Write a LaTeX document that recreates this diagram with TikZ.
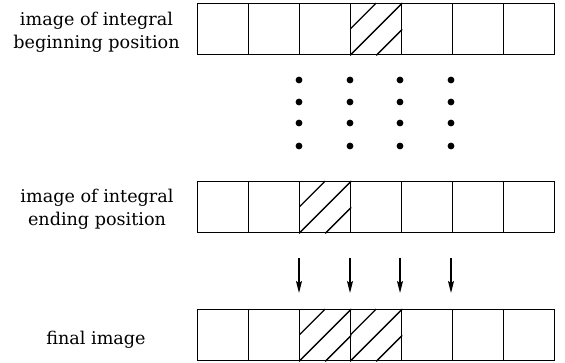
\documentclass[tikz,border=0pt]{standalone}
\usepackage{fontspec}
\setmainfont{DejaVu Serif}
\usetikzlibrary{arrows.meta}
\begin{document}
\begin{tikzpicture}[x=1pt,y=-1pt,
  cell/.style={draw, line width=1.4pt, minimum width=51pt, minimum height=51pt, inner sep=0pt, anchor=north west},
  hatched/.style={path picture={
    \draw[line width=1.3pt] (path picture bounding box.south west) -- (path picture bounding box.north east);
    \draw[line width=1.3pt] (path picture bounding box.west) -- (path picture bounding box.north);
    \draw[line width=1.3pt] (path picture bounding box.south) -- (path picture bounding box.east);
  }},
  lbl/.style={align=center, inner sep=0pt, font=\fontsize{17.6}{23}\selectfont},
  dot/.style={fill=black},
  arr/.style={line width=1.3pt, -{Stealth[length=12pt,width=6pt,inset=2pt]}}]
\fill[white] (0,0) rectangle (565,363);
\useasboundingbox (0,0) rectangle (565,363);
% rows of cells
\foreach \i in {0,...,6} {
  \node[cell] (a\i) at ({197+51*\i},3) {};
  \node[cell] (b\i) at ({197+51*\i},181) {};
  \node[cell] (c\i) at ({197+51*\i},309) {};
}
% hatching
\path[hatched] (a3.north west) rectangle (a3.south east);
\path[hatched] (b2.north west) rectangle (b2.south east);
\path[hatched] (c2.north west) rectangle (c2.south east);
\path[hatched] (c3.north west) rectangle (c3.south east);
% labels
\node[lbl] (l1) at (96.5,32) {image of integral\\beginning position};
\node[lbl] (l2) at (97,209.5) {image of integral\\ending position};
\node[lbl] (l3) at (96,340) {final image};
% dots
\foreach \x in {299,350,400,451} {
  \foreach \y in {80,102,123,146} {
    \fill[dot] (\x,\y) circle (3.4pt);
  }
}
% arrows
\foreach \x [count=\k] in {299,350,400,451} {
  \coordinate (s\k) at (\x,258);
  \coordinate (t\k) at (\x,293);
  \draw[arr] (s\k) -- (t\k);
}
\end{tikzpicture}
\end{document}
